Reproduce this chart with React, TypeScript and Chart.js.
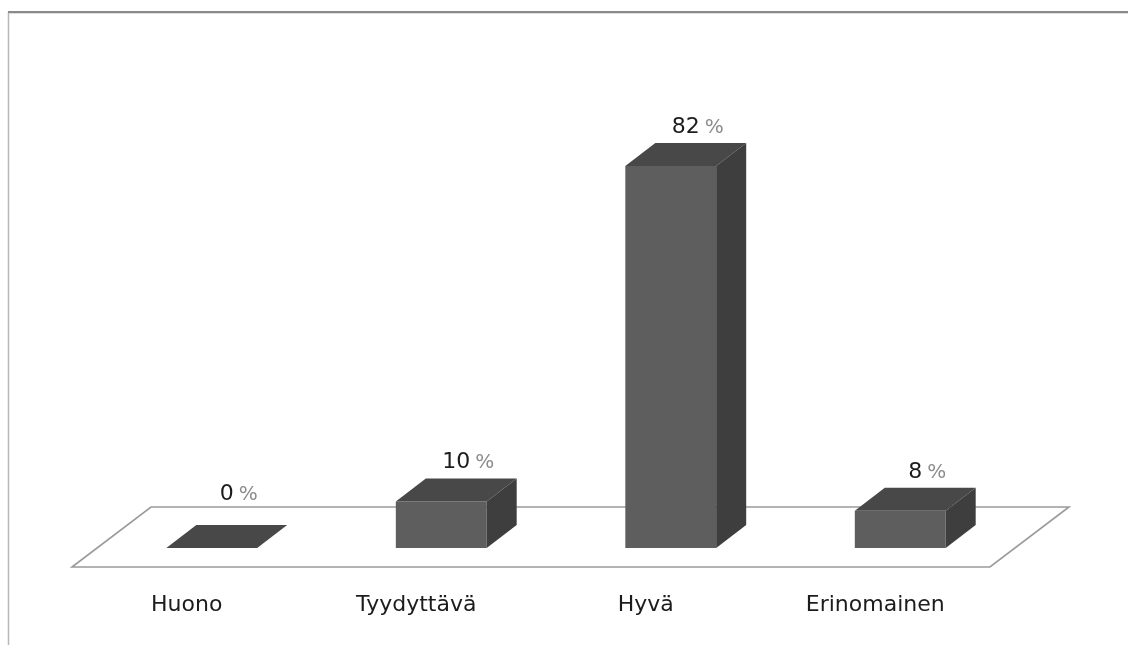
import React, { useEffect, useRef } from "react";
import { Chart, registerables } from "chart.js";

Chart.register(...registerables);

const categories: string[] = ["Huono", "Tyydyttävä", "Hyvä", "Erinomainen"];
const values: number[] = [0, 10, 82, 8];
const yMin = 0;
const yMax = 100;

const FRONT = "#5e5e5e";
const TOP = "#484848";
const SIDE = "#3e3e3e";
const DX = 30;
const DY = 23;
const FLOOR_DX = 79;
const FLOOR_DY = 60;
const FLOOR_FRONT_GAP = 19;

const threeD = {
  id: "threeD",
  beforeDraw(chart: any) {
    const ctx = chart.ctx;
    ctx.save();
    ctx.fillStyle = "#ffffff";
    ctx.fillRect(0, 0, chart.width, chart.height);
    // frame
    ctx.strokeStyle = "#b8b8b8";
    ctx.lineWidth = 1.5;
    ctx.beginPath();
    ctx.moveTo(8.5, 12);
    ctx.lineTo(8.5, chart.height);
    ctx.stroke();
    ctx.strokeStyle = "#8a8a8a";
    ctx.lineWidth = 2;
    ctx.beginPath();
    ctx.moveTo(8, 12);
    ctx.lineTo(chart.width, 12);
    ctx.stroke();
    ctx.strokeStyle = "#dddddd";
    ctx.lineWidth = 1;
    ctx.beginPath();
    ctx.moveTo(9, 13.5);
    ctx.lineTo(chart.width, 13.5);
    ctx.stroke();
    ctx.restore();
  },
  beforeDatasetsDraw(chart: any) {
    const ctx = chart.ctx;
    const a = chart.chartArea;
    const fy = a.bottom + FLOOR_FRONT_GAP;
    const fxOff = (FLOOR_FRONT_GAP * FLOOR_DX) / FLOOR_DY;
    const l = a.left - fxOff;
    const r = a.right - fxOff;
    ctx.save();
    ctx.fillStyle = "#ffffff";
    ctx.strokeStyle = "#9a9a9a";
    ctx.lineWidth = 1.6;
    ctx.beginPath();
    ctx.moveTo(l, fy);
    ctx.lineTo(r, fy);
    ctx.lineTo(r + FLOOR_DX, fy - FLOOR_DY);
    ctx.lineTo(l + FLOOR_DX, fy - FLOOR_DY);
    ctx.closePath();
    ctx.fill();
    ctx.stroke();
    ctx.restore();
  },
  afterDatasetsDraw(chart: any) {
    const ctx = chart.ctx;
    const a = chart.chartArea;
    const floorBack = a.bottom + FLOOR_FRONT_GAP - FLOOR_DY;
    const meta = chart.getDatasetMeta(0);
    ctx.save();
    meta.data.forEach((bar: any, i: number) => {
      const w = bar.width;
      const left = bar.x - w / 2;
      const right = bar.x + w / 2;
      const top = bar.y;
      const bottom = bar.base;
      // top face
      ctx.fillStyle = TOP;
      ctx.beginPath();
      ctx.moveTo(left, top);
      ctx.lineTo(left + DX, top - DY);
      ctx.lineTo(right + DX, top - DY);
      ctx.lineTo(right, top);
      ctx.closePath();
      ctx.fill();
      // side face
      if (bottom - top > 0.5) {
        ctx.fillStyle = SIDE;
        ctx.beginPath();
        ctx.moveTo(right, top);
        ctx.lineTo(right + DX, top - DY);
        ctx.lineTo(right + DX, bottom - DY);
        ctx.lineTo(right, bottom);
        ctx.closePath();
        ctx.fill();
      }
      // value label
      const cx = bar.x + DX / 2;
      const by = Math.min(top - DY - 10, floorBack - 7);
      const num = String(values[i]);
      ctx.font = '22px "DejaVu Sans"';
      const nw = ctx.measureText(num).width;
      ctx.textBaseline = "alphabetic";
      ctx.textAlign = "left";
      ctx.fillStyle = "#1c1c1c";
      ctx.fillText(num, cx - nw / 2, by);
      ctx.font = '20px "DejaVu Sans"';
      ctx.fillStyle = "#8c8c8c";
      ctx.fillText("%", cx + nw / 2 + 5, by);
    });
    ctx.restore();
  },
};

export default function App() {
  const ref = useRef<HTMLCanvasElement | null>(null);
  useEffect(() => {
    if (!ref.current) return;
    const chart = new Chart(ref.current, {
      type: "bar",
      data: {
        labels: categories,
        datasets: [
          {
            data: values,
            backgroundColor: FRONT,
            borderWidth: 0,
            barPercentage: 0.396,
            categoryPercentage: 1,
          },
        ],
      },
      options: {
        animation: false,
        responsive: true,
        maintainAspectRatio: false,
        layout: { padding: { left: 97, right: 113, top: 82, bottom: 0 } },
        plugins: {
          legend: { display: false },
          tooltip: { enabled: false },
          title: { display: false },
        },
        scales: {
          x: {
            grid: { display: false, drawTicks: false },
            border: { display: false },
            ticks: {
              font: { family: "DejaVu Sans", size: 22 },
              color: "#1c1c1c",
              labelOffset: -25,
              padding: 44,
              maxRotation: 0,
              autoSkip: false,
            },
            afterFit: (scale: any) => {
              scale.height = 97;
            },
          },
          y: {
            display: false,
            min: yMin,
            max: yMax,
          },
        },
      },
      plugins: [threeD],
    });
    return () => chart.destroy();
  }, []);
  return (
    <div style={{ position: "fixed", left: 0, top: 0, width: 1128, height: 645, background: "#fff" }}>
      <canvas ref={ref} />
    </div>
  );
}
